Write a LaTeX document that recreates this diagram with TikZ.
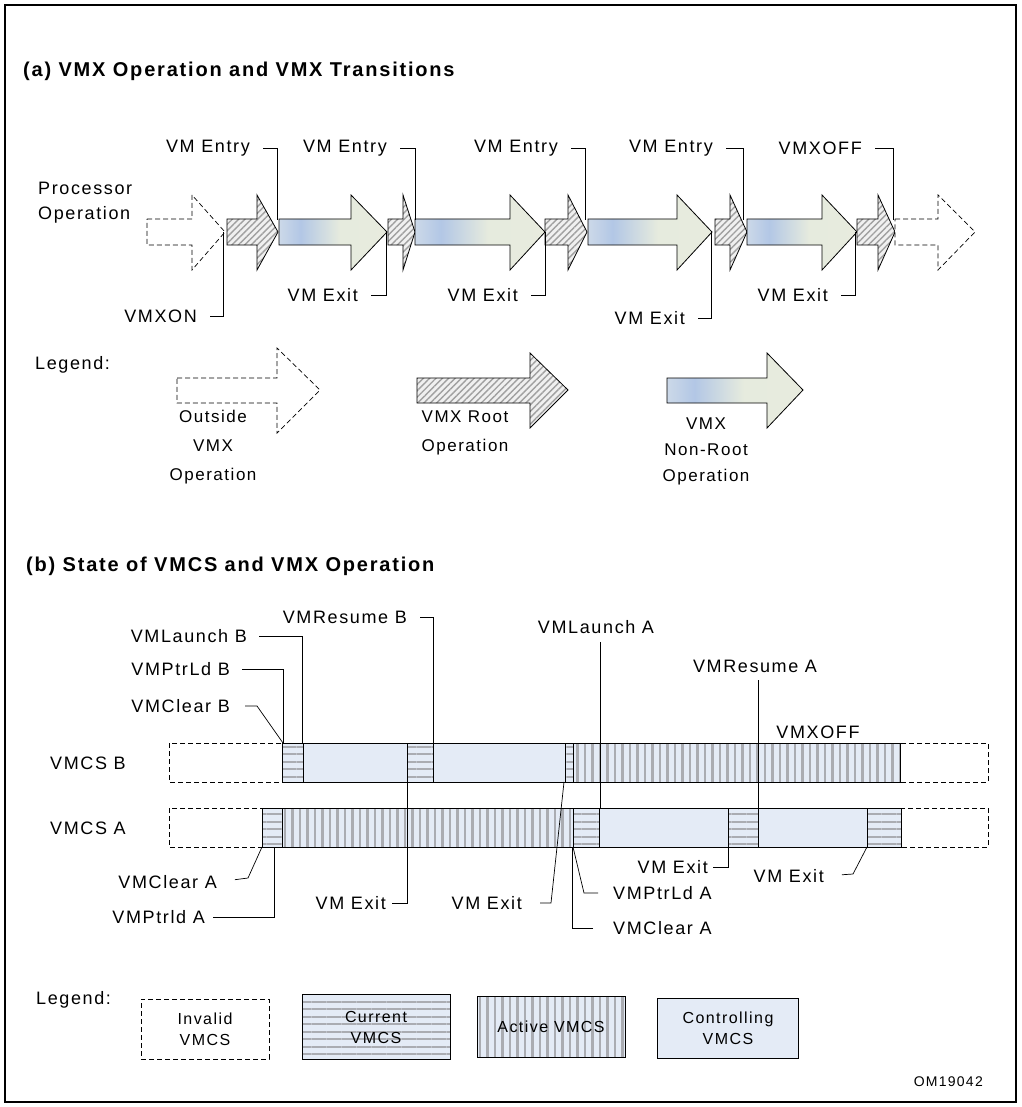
\documentclass[tikz,border=0pt]{standalone}
\usepackage{fontspec}
\setmainfont{Liberation Sans}
\newfontfamily\lblfont[LetterSpace=9]{Liberation Sans}
\newfontfamily\ttlfont[LetterSpace=9]{Liberation Sans}
\usepackage{xcolor}
\usetikzlibrary{positioning,patterns.meta,calc}

\definecolor{ctrlblue}{RGB}{228,235,246}
\definecolor{hatchgray}{RGB}{160,160,160}
\definecolor{stripegray}{RGB}{170,172,178}
\pgfdeclarehorizontalshading{nonrootshade}{100bp}{rgb(0bp)=(0.80,0.85,0.91); rgb(25bp)=(0.80,0.85,0.91); rgb(35bp)=(0.70,0.78,0.90); rgb(53bp)=(0.90,0.92,0.87); rgb(75bp)=(0.91,0.92,0.87); rgb(100bp)=(0.91,0.92,0.87)}

\begin{document}
\begin{tikzpicture}[x=1pt, y=-1pt,
  lbl/.style={font=\lblfont\fontsize{18}{20}\selectfont, inner sep=0pt},
  ttl/.style={font=\ttlfont\bfseries\fontsize{20}{22}\selectfont, inner sep=0pt, anchor=west},
  outside/.style={draw, dash pattern=on 5pt off 3pt, line width=0.7pt, fill=white},
  root/.style={draw, line width=0.8pt, preaction={fill=gray!12}, pattern={Lines[angle=45,distance=4.5pt,line width=1.4pt]}, pattern color=hatchgray},
  nonroot/.style={draw, line width=0.8pt, shade, shading=nonrootshade},
  invalid/.style={draw, dash pattern=on 5pt off 3pt, line width=0.7pt},
  ctrl/.style={draw, line width=0.8pt, fill=ctrlblue},
  current/.style={draw, line width=0.8pt, preaction={fill=ctrlblue}, pattern={Lines[angle=0,distance=7.5pt,line width=2pt]}, pattern color=stripegray},
  active/.style={draw, line width=0.8pt, preaction={fill=ctrlblue}, pattern={Lines[angle=90,distance=7.5pt,line width=2.2pt]}, pattern color=stripegray},
  box/.style={align=center, font=\lblfont\fontsize{16}{21}\selectfont},
  leader/.style={draw, line width=0.7pt}]
  \useasboundingbox (0,0) rectangle (1021,1107);
  \draw[line width=1.5pt] (5,5) rectangle (1016,1102);

  % (a) transitions
  \node[ttl] (ttlA) at (23,71) {(a) VMX Operation and VMX Transitions};
  \node[lbl, anchor=west, align=left, font=\lblfont\fontsize{18}{25}\selectfont] (proc) at (38,203) {Processor\\Operation};
  \foreach \a/\b/\c/\s in {147/192/225/outside, 227/257/278/root, 279/351/387/nonroot, 388/403/415/root, 415/510/545/nonroot, 545/568/587/root, 588/677/712/nonroot, 715/730/747/root, 747/822/857/nonroot, 857/878/895/root, 895/938/975/outside}
    \draw[\s] (\a,219) -- (\b,219) -- (\b,195) -- (\c,232) -- (\b,270) -- (\b,245) -- (\a,245) -- cycle;
  \coordinate (j0) at (223,232);
  \coordinate (j1) at (277,232);
  \coordinate (j2) at (386,232);
  \coordinate (j3) at (415,232);
  \coordinate (j4) at (545,232);
  \coordinate (j5) at (585,232);
  \coordinate (j6) at (711,232);
  \coordinate (j7) at (743,232);
  \coordinate (j8) at (855,232);
  \coordinate (j9) at (893,232);
  \node[lbl, anchor=east] (en1) at (250,148) {VM Entry};
  \node[lbl, anchor=east] (en2) at (387,148) {VM Entry};
  \node[lbl, anchor=east] (en3) at (558,148) {VM Entry};
  \node[lbl, anchor=east] (en4) at (713,148) {VM Entry};
  \node[lbl, anchor=east] (off) at (862,148) {VMXOFF};
  \node[lbl, anchor=east] (on) at (197,316) {VMXON};
  \node[lbl, anchor=east] (ex1) at (358,295) {VM Exit};
  \node[lbl, anchor=east] (ex2) at (518,295) {VM Exit};
  \node[lbl, anchor=east] (ex3) at (685,318) {VM Exit};
  \node[lbl, anchor=east] (ex4) at (828,295) {VM Exit};
  \foreach \n/\j in {en1/j1, en2/j3, en3/j5, en4/j7, off/j9}
    \draw[leader, shorten <=13pt, shorten >=12pt] (\n.east) -| (\j);
  \foreach \n/\j in {on/j0, ex1/j2, ex2/j4, ex3/j6, ex4/j8}
    \draw[leader, shorten <=13pt] (\n.east) -| (\j);

  % (a) legend
  \node[lbl, anchor=west] (lgA) at (35,365) {Legend:};
  \foreach \a/\b/\c/\t/\u/\s in {177/277/320/348/433/outside, 417/530/568/353/428/root, 667/767/803/353/428/nonroot}
    \draw[\s] (\a,378) -- (\b,378) -- (\b,\t) -- (\c,390) -- (\b,\u) -- (\b,403) -- (\a,403) -- cycle;
  \node[lbl, align=center, font=\lblfont\fontsize{17}{29}\selectfont] (lgOut) at (213,447) {Outside\\VMX\\Operation};
  \node[lbl, align=center, font=\lblfont\fontsize{17}{29}\selectfont] (lgRoot) at (465,433) {VMX Root\\Operation};
  \node[lbl, align=center, font=\lblfont\fontsize{17}{26}\selectfont] (lgNon) at (706,451) {VMX\\Non-Root\\Operation};

  % (b) VMCS states
  \node[ttl] (ttlB) at (26,566) {(b) State of VMCS and VMX Operation};
  \node[lbl, anchor=west] (vmcsB) at (50,763) {VMCS B};
  \node[lbl, anchor=west] (vmcsA) at (50,828) {VMCS A};
  \foreach \a/\b/\s in {169/282/invalid, 282/303/current, 303/407/ctrl, 407/433/current, 433/565/ctrl, 565/573/current, 573/900/active, 900/988/invalid}
    \draw[\s] (\a,743) rectangle (\b,782);
  \foreach \a/\b/\s in {169/262/invalid, 262/282/current, 282/573/active, 573/599/current, 599/728/ctrl, 728/758/current, 758/867/ctrl, 867/901/current, 901/988/invalid}
    \draw[\s] (\a,808) rectangle (\b,847);

  \coordinate (cLnB) at (302,743);
  \coordinate (cPtB) at (283,743);
  \coordinate (cRsB) at (433,743);
  \coordinate (cLnA) at (600,808);
  \coordinate (cRsA) at (758,808);
  \coordinate (cClA) at (262,847);
  \coordinate (cPtA) at (274,847);
  \coordinate (cEx5) at (407,782);
  \coordinate (cEx6) at (564,782);
  \coordinate (cPtA2) at (573,847);
  \coordinate (cClA2) at (572,847);
  \coordinate (cEx7) at (728,847);
  \coordinate (cEx8) at (867,847);

  \node[lbl, anchor=east] (lnB) at (247,636) {VMLaunch B};
  \node[lbl, anchor=east] (ptB) at (230,669) {VMPtrLd B};
  \node[lbl, anchor=east] (clB) at (230,706) {VMClear B};
  \node[lbl, anchor=east] (rsB) at (407,617) {VMResume B};
  \node[lbl] (lnA) at (596,627) {VMLaunch A};
  \node[lbl] (rsA) at (755,666) {VMResume A};
  \node[lbl] (offB) at (818,732) {VMXOFF};
  \node[lbl, anchor=east] (clA) at (217,882) {VMClear A};
  \node[lbl, anchor=east] (ptA) at (205,917) {VMPtrld A};
  \node[lbl, anchor=east] (ex5) at (386,903) {VM Exit};
  \node[lbl, anchor=east] (ex6) at (522,903) {VM Exit};
  \node[lbl, anchor=west] (ptA2) at (613,893) {VMPtrLd A};
  \node[lbl, anchor=west] (clA2) at (613,928) {VMClear A};
  \node[lbl, anchor=east] (ex7) at (708,867) {VM Exit};
  \node[lbl, anchor=east] (ex8) at (824,876) {VM Exit};

  \draw[leader, shorten <=12pt] (lnB.east) -| (cLnB);
  \draw[leader, shorten <=12pt] (ptB.east) -| (cPtB);
  \draw[leader, shorten <=15pt] (clB.east) -- ++(27,0) -- (cPtB);
  \draw[leader, shorten <=13pt] (rsB.east) -| (cRsB);
  \draw[leader, shorten <=8pt] (lnA.south -| cLnA) -- (cLnA);
  \draw[leader, shorten <=8pt] (rsA.south -| cRsA) -- (cRsA);
  \draw[leader, shorten <=18pt] (clA.east) -- ++(31,-4) -- (cClA);
  \draw[leader, shorten <=8pt] (ptA.east) -| (cPtA);
  \draw[leader, shorten <=6pt] (ex5.east) -| (cEx5);
  \draw[leader, shorten <=18pt] (ex6.east) -- ++(29,0) -- (cEx6);
  \draw[leader, shorten <=15pt] (ptA2.west) -- ++(-29,0) -- (cPtA2);
  \draw[leader, shorten <=20pt] (clA2.west) -| (cClA2);
  \draw[leader, shorten <=5pt] (ex7.east) -| (cEx7);
  \draw[leader, shorten <=18pt] (ex8.east) -- ++(29,-2) -- (cEx8);

  % (b) legend
  \node[lbl, anchor=west] (lgB) at (36,1000) {Legend:};
  \node[invalid, box, minimum width=128pt, minimum height=60pt] (lgInv) at (205,1029) {Invalid\\VMCS};
  \node[current, box, minimum width=148pt, minimum height=65pt] (lgCur) at (376,1027) {Current\\VMCS};
  \node[active, box, minimum width=148pt, minimum height=61pt] (lgAct) at (551,1027) {Active VMCS};
  \node[ctrl, box, minimum width=141pt, minimum height=60pt] (lgCtl) at (728,1028) {Controlling\\VMCS};
  \node[lbl, anchor=east, font=\lblfont\fontsize{14}{16}\selectfont] (fig) at (983,1082) {OM19042};
\end{tikzpicture}
\end{document}
